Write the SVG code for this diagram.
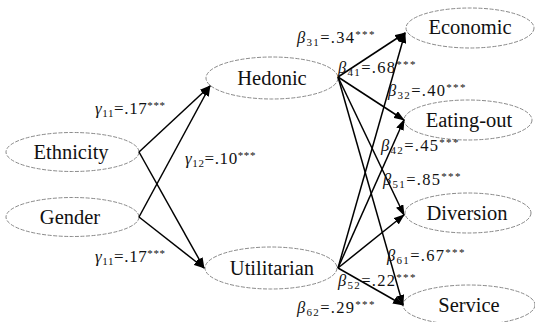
<svg xmlns="http://www.w3.org/2000/svg" width="535" height="322" viewBox="0 0 535 322" font-family="Liberation Serif, serif">
<style>
.el{fill:none;stroke:#8a8a8a;stroke-width:1;stroke-dasharray:4 1.5}
.nt{font-size:20.5px;fill:#111;text-anchor:middle}
.lg{font-size:17px;fill:#111;letter-spacing:0.6px}
.lb{font-size:16.5px;fill:#111;letter-spacing:1.3px}
.gr{font-style:italic}
.sub{font-size:11px}
.sup{font-size:11px}
.cn line{stroke:#000;stroke-width:1.5;marker-end:url(#ah)}
</style>
<defs>
<marker id="ah" markerUnits="userSpaceOnUse" markerWidth="11" markerHeight="8" refX="10" refY="4" orient="auto">
<path d="M0,0 L11,4 L0,8 Z" fill="#000"/>
</marker>
</defs>
<g id="ethnicity"><ellipse class="el" cx="72.5" cy="152" rx="66.5" ry="19.5"/><text class="nt" x="71" y="159">Ethnicity</text></g>
<g id="gender"><ellipse class="el" cx="72.5" cy="217" rx="66.5" ry="19.5"/><text class="nt" x="70" y="224">Gender</text></g>
<g id="hedonic"><ellipse class="el" cx="272" cy="78" rx="66" ry="21"/><text class="nt" x="272" y="85">Hedonic</text></g>
<g id="utilitarian"><ellipse class="el" cx="271" cy="268" rx="66" ry="21"/><text class="nt" x="272" y="275">Utilitarian</text></g>
<g id="economic"><ellipse class="el" cx="470" cy="28" rx="64" ry="20"/><text class="nt" x="470" y="34">Economic</text></g>
<g id="eating-out"><ellipse class="el" cx="468" cy="120" rx="64" ry="20"/><text class="nt" x="469" y="127">Eating-out</text></g>
<g id="diversion"><ellipse class="el" cx="468" cy="213" rx="63" ry="20"/><text class="nt" x="467" y="220">Diversion</text></g>
<g id="service"><ellipse class="el" cx="469" cy="305" rx="66" ry="20"/><text class="nt" x="469" y="312">Service</text></g>
<g id="connectors" class="cn">
<line x1="139" y1="152" x2="210" y2="86"/>
<line x1="139" y1="217" x2="210" y2="86"/>
<line x1="139" y1="152" x2="204" y2="268"/>
<line x1="139" y1="217" x2="204" y2="268"/>
<line x1="338" y1="77" x2="405" y2="33"/>
<line x1="338" y1="77" x2="404" y2="120"/>
<line x1="338" y1="77" x2="404" y2="215"/>
<line x1="338" y1="77" x2="403" y2="305"/>
<line x1="338" y1="268" x2="405" y2="33"/>
<line x1="338" y1="268" x2="404" y2="120"/>
<line x1="338" y1="268" x2="404" y2="215"/>
<line x1="338" y1="268" x2="403" y2="305"/>
</g>
<g id="labels">
<text class="lg" x="95" y="114"><tspan class="gr">γ</tspan><tspan class="sub" dy="3">11</tspan><tspan dy="-3">=.17</tspan><tspan class="sup" dy="-5">***</tspan></text>
<text class="lg" x="185" y="164"><tspan class="gr">γ</tspan><tspan class="sub" dy="3">12</tspan><tspan dy="-3">=.10</tspan><tspan class="sup" dy="-5">***</tspan></text>
<text class="lg" x="95" y="262"><tspan class="gr">γ</tspan><tspan class="sub" dy="3">11</tspan><tspan dy="-3">=.17</tspan><tspan class="sup" dy="-5">***</tspan></text>
<text class="lb" x="297" y="43"><tspan class="gr">β</tspan><tspan class="sub" dy="3">31</tspan><tspan dy="-3">=.34</tspan><tspan class="sup" dy="-5">***</tspan></text>
<text class="lb" x="338" y="73"><tspan class="gr">β</tspan><tspan class="sub" dy="3">41</tspan><tspan dy="-3">=.68</tspan><tspan class="sup" dy="-5">***</tspan></text>
<text class="lb" x="388" y="96"><tspan class="gr">β</tspan><tspan class="sub" dy="3">32</tspan><tspan dy="-3">=.40</tspan><tspan class="sup" dy="-5">***</tspan></text>
<text class="lb" x="381" y="151"><tspan class="gr">β</tspan><tspan class="sub" dy="3">42</tspan><tspan dy="-3">=.45</tspan><tspan class="sup" dy="-5">***</tspan></text>
<text class="lb" x="383" y="185"><tspan class="gr">β</tspan><tspan class="sub" dy="3">51</tspan><tspan dy="-3">=.85</tspan><tspan class="sup" dy="-5">***</tspan></text>
<text class="lb" x="387" y="261"><tspan class="gr">β</tspan><tspan class="sub" dy="3">61</tspan><tspan dy="-3">=.67</tspan><tspan class="sup" dy="-5">***</tspan></text>
<text class="lb" x="338" y="286"><tspan class="gr">β</tspan><tspan class="sub" dy="3">52</tspan><tspan dy="-3">=.22</tspan><tspan class="sup" dy="-5">***</tspan></text>
<text class="lb" x="297" y="313"><tspan class="gr">β</tspan><tspan class="sub" dy="3">62</tspan><tspan dy="-3">=.29</tspan><tspan class="sup" dy="-5">***</tspan></text>
</g>
</svg>
